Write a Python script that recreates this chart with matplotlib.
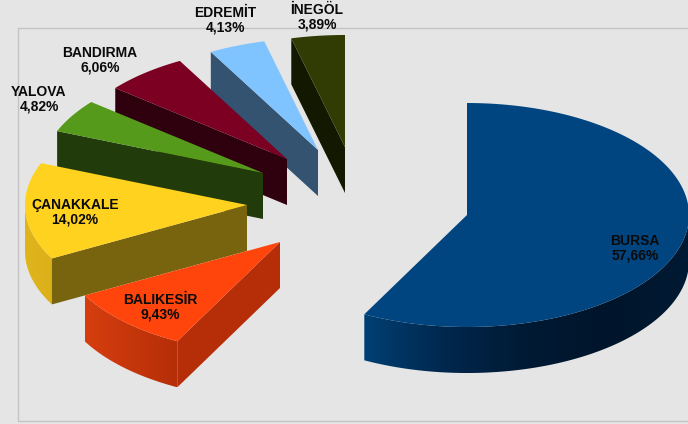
import numpy as np
import matplotlib
matplotlib.use("Agg")
import matplotlib.pyplot as plt
from matplotlib.colors import LinearSegmentedColormap
from matplotlib.patches import Polygon

names = ["BURSA", "BALIKESİR", "ÇANAKKALE", "YALOVA", "BANDIRMA", "EDREMİT", "İNEGÖL"]
shares = [57.66, 9.43, 14.02, 4.82, 6.06, 4.13, 3.89]
share_labels = ["57,66%", "9,43%", "14,02%", "4,82%", "6,06%", "4,13%", "3,89%"]

# tips of the exploded slices and label centres, in pixels
tips = [(467, 215), (280, 242), (247, 205), (263, 173), (287, 159), (318, 150), (345, 147)]
label_pos = [(635, 248), (160, 307), (75, 212), (39, 99), (100, 60), (225, 20), (317, 17)]

top_colors = ["#004580", "#ff450c", "#ffd21f", "#559a1a", "#7b0022", "#80c4ff", "#313c04"]
face_colors = ["#002a50", "#b52e08", "#78640f", "#223b0a", "#2f000e", "#335370", "#121900"]
rim_colors = [["#003f73", "#00274d", "#001a33", "#00152b", "#001a33"],
              ["#d63e0e", "#b52e08"],
              ["#e0b41a", "#dcb01a"],
              None, None, None, None]

RX = 222
RY = 112
DEPTH = 46


def rim(tip, a0, a1):
    ang = np.radians(np.linspace(a0, a1, 120))
    return tip[0] + RX * np.sin(ang), tip[1] - RY * np.cos(ang)


fig = plt.figure(figsize=(6.88, 4.24), dpi=100, facecolor="#e5e5e5")
ax = fig.add_axes([0, 0, 1, 1])

# plot area frame
ax.plot([688, 18, 18, 688], [28, 28, 421, 421], color="#c4c4c4", lw=1.0, zorder=1)

edges = np.cumsum([0] + shares) / sum(shares) * 360
# back slices first, the big one does not overlap anything
for i in [0, 6, 5, 4, 3, 2, 1]:
    a0, a1 = edges[i], edges[i + 1]
    tip = tips[i]
    z = 2 + (7 - i if i else 0)
    x, y = rim(tip, a0, a1)

    # outer wall, only the front half of the ellipse shows
    lo, hi = max(a0, 90), min(a1, 270)
    if rim_colors[i] and hi > lo:
        rx, ry = rim(tip, lo, hi)
        px = np.r_[rx, rx[::-1]]
        py = np.r_[ry, ry[::-1] + DEPTH]
        clip = Polygon(np.c_[px, py], closed=True, transform=ax.transData, fc="none", ec="none")
        ax.add_patch(clip)
        cmap = LinearSegmentedColormap.from_list("rim", rim_colors[i])
        grad = np.linspace(0, 1, 256)[None, :]
        im = ax.imshow(grad, cmap=cmap, aspect="auto", zorder=z,
                       extent=[px.min(), px.max(), py.max(), py.min()])
        im.set_clip_path(clip)

    # cut face that looks at the viewer
    if i > 0:
        sx, sy = x[0], y[0]
        ax.fill([tip[0], sx, sx, tip[0]], [tip[1], sy, sy + DEPTH, tip[1] + DEPTH],
                color=face_colors[i], lw=0, zorder=z)

    # top of the slice
    ax.fill(np.r_[tip[0], x], np.r_[tip[1], y], color=top_colors[i], lw=0, zorder=z + 0.5)

for i in range(len(names)):
    ax.text(label_pos[i][0], label_pos[i][1], names[i] + "\n" + share_labels[i],
            ha="center", va="center", fontsize=10, fontweight="bold",
            family="Liberation Sans", color="#0a0a0a", linespacing=1.05, zorder=20)

ax.set_xlim(0, 688)
ax.set_ylim(424, 0)
ax.axis("off")
fig.savefig("out.png", dpi=100, facecolor=fig.get_facecolor())
